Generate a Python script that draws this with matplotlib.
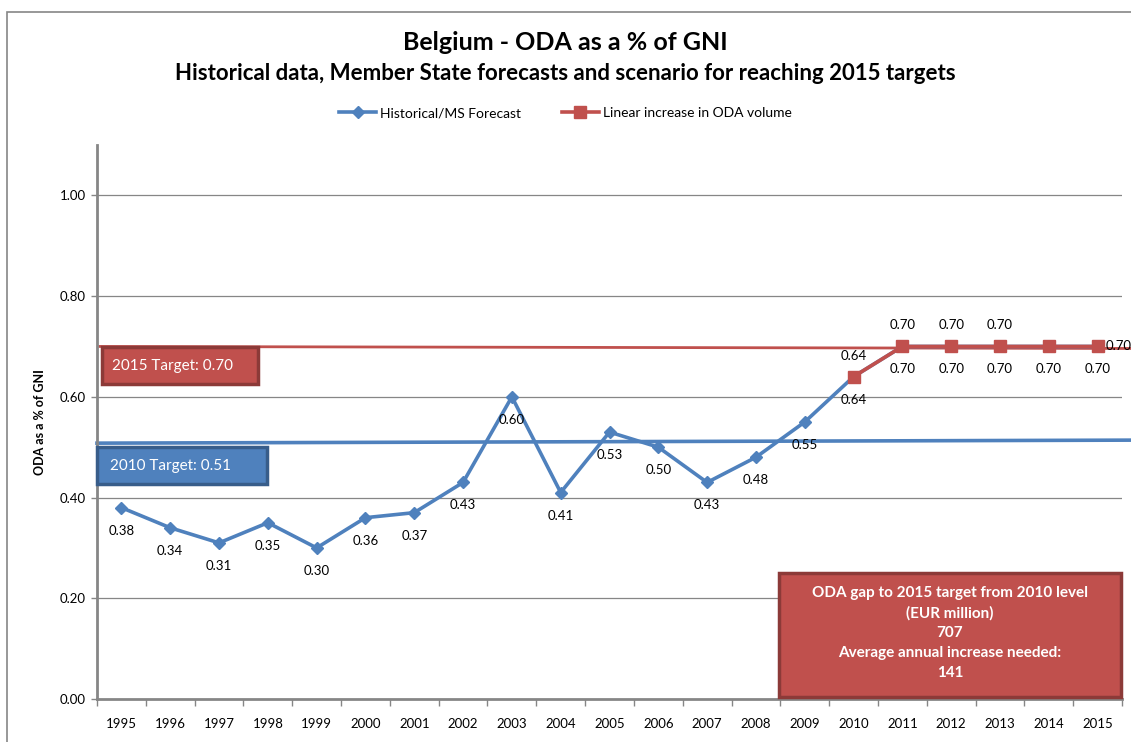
import matplotlib.pyplot as plt
from matplotlib.patches import Rectangle

plt.rcParams['font.family'] = ['Lato', 'DejaVu Sans']

years = [str(y) for y in range(1995, 2016)]
hist = [0.38, 0.34, 0.31, 0.35, 0.30, 0.36, 0.37, 0.43, 0.60, 0.41, 0.53,
        0.50, 0.43, 0.48, 0.55, 0.64, 0.70, 0.70, 0.70, 0.70, 0.70]
linear_years = ['2010', '2011', '2012', '2013', '2014', '2015']
linear = [0.64, 0.70, 0.70, 0.70, 0.70, 0.70]
target_2010 = 0.51
target_2015 = 0.70
yticks = [0.0, 0.2, 0.4, 0.6, 0.8, 1.0]

blue = '#4f81bd'
red = '#c0504d'

fig = plt.figure(figsize=(11.31, 7.42), dpi=100)
ax = fig.add_axes([97 / 1131, 1 - 699 / 742, (1122 - 97) / 1131, (699 - 145) / 742])

# outer chart border
fig.patches.append(Rectangle((7 / 1131, -0.1), 1.2, 1 - 12 / 742 + 0.1, transform=fig.transFigure,
                             fill=False, edgecolor='#868686', linewidth=1.2))

x_hist = [years.index(y) for y in years]
x_lin = [years.index(y) for y in linear_years]

# target lines, they run past the plot edge like in excel
ax.plot([-0.5, 20.7], [target_2010 - 0.002, target_2010 + 0.004], color=blue, lw=2.6, clip_on=False, zorder=2)
ax.plot([-0.44, 20.7], [target_2015, target_2015 - 0.004], color=red, lw=2.0, clip_on=False, zorder=2)

ax.plot(x_hist, hist, color=blue, lw=2.6, marker='D', markersize=6, zorder=3,
        label='Historical/MS Forecast')
ax.plot(x_lin, linear, color=red, lw=2.6, marker='s', markersize=9, zorder=4,
        label='Linear increase in ODA volume')

for x, v in zip(x_hist, hist):
    ax.annotate(f'{v:.2f}', (x, v), xytext=(0, -23), textcoords='offset pixels',
                ha='center', va='center', fontsize=9.5, color='black')
for x, v, yr in zip(x_lin, linear, linear_years):
    if yr in ('2014',):
        continue
    if yr == '2015':
        ax.annotate(f'{v:.2f}', (x, v), xytext=(8, 0), textcoords='offset pixels',
                    ha='left', va='center', fontsize=9.5, color='black', annotation_clip=False)
    else:
        ax.annotate(f'{v:.2f}', (x, v), xytext=(0, 21), textcoords='offset pixels',
                    ha='center', va='center', fontsize=9.5, color='black')

ax.set_xlim(-0.5, 20.5)
ax.set_ylim(0, 1.1)
ax.set_yticks(yticks)
ax.set_yticklabels([f'{t:.2f}' for t in yticks], fontsize=9.5)
ax.set_xticks([i - 0.5 for i in range(len(years) + 1)])
ax.set_xticklabels([])
ax.set_xticks(range(len(years)), minor=True)
ax.set_xticklabels(years, minor=True, fontsize=9.5)
ax.tick_params(axis='x', which='major', length=5, color='#868686', width=1)
ax.tick_params(axis='x', which='minor', length=0, pad=14)
ax.tick_params(axis='y', length=4, color='#868686', width=1, pad=4)
for g in yticks[1:]:
    ax.axhline(g, color='#868686', lw=0.9, zorder=1)
for s in ['top', 'right']:
    ax.spines[s].set_visible(False)
for s in ['left', 'bottom']:
    ax.spines[s].set_color('#868686')
    ax.spines[s].set_linewidth(2)
ax.set_ylabel('ODA as a % of GNI', fontsize=9, fontweight='bold', labelpad=10)

fig.text(0.5, 1 - 43 / 742, 'Belgium - ODA as a % of GNI', ha='center', va='center',
         fontsize=18, fontweight='bold')
fig.text(0.5, 1 - 74 / 742, 'Historical data, Member State forecasts and scenario for reaching 2015 targets',
         ha='center', va='center', fontsize=16, fontweight='bold')
fig.legend(loc='center', bbox_to_anchor=(0.5, 1 - 113 / 742), ncol=2, frameon=False,
           fontsize=10, handlelength=2.6, handletextpad=0.3, columnspacing=3)

# annotation boxes
def box(x0, y0, x1, y1, face, edge):
    fig.patches.append(Rectangle((x0 / 1131, 1 - y1 / 742), (x1 - x0) / 1131, (y1 - y0) / 742,
                                 transform=fig.transFigure, facecolor=face, edgecolor=edge,
                                 linewidth=2.5, zorder=5))

box(102, 347, 258, 384, red, '#8c3a38')
fig.text(112 / 1131, 1 - 366 / 742, '2015 Target: 0.70', color='white', fontsize=11,
         va='center', ha='left', zorder=6)
box(97, 447, 267, 484, blue, '#385d8a')
fig.text(110 / 1131, 1 - 466 / 742, '2010 Target: 0.51', color='white', fontsize=11,
         va='center', ha='left', zorder=6)
box(779, 573, 1121, 697, red, '#8c3a38')
fig.text(950 / 1131, 1 - 633 / 742,
         'ODA gap to 2015 target from 2010 level\n(EUR million)\n707\nAverage annual increase needed:\n141',
         color='white', fontsize=11, fontweight='bold', ha='center', va='center',
         linespacing=1.55, zorder=6)

fig.savefig('out.png', dpi=100)
